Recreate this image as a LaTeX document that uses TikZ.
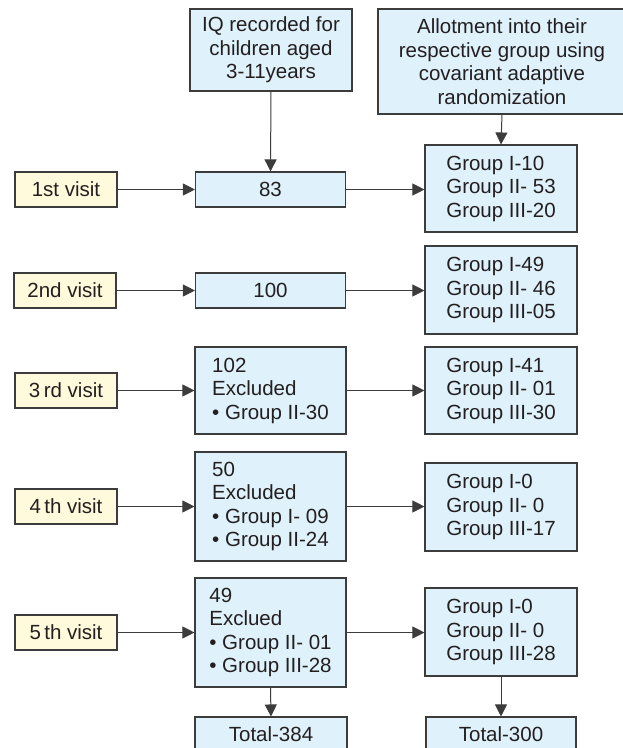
\documentclass[tikz,border=0pt]{standalone}
\usepackage{fontspec}
\setmainfont{Liberation Sans}
\usetikzlibrary{arrows.meta}
\definecolor{boxfill}{HTML}{DFF1FA}
\definecolor{visitfill}{HTML}{FFFADC}
\definecolor{edgegray}{HTML}{3C3C3C}
\definecolor{inkblack}{HTML}{231F20}
\begin{document}
\begin{tikzpicture}[x=1pt,y=-1pt,
    font=\fontsize{20.5}{23.5}\selectfont,
    flowbox/.style={draw=edgegray, line width=1.1pt, fill=boxfill, text=inkblack, align=left, inner sep=0pt},
    visitbox/.style={draw=edgegray, line width=1.1pt, fill=visitfill, text=inkblack, inner sep=0pt, minimum width=102pt, minimum height=35pt},
    flowarrow/.style={draw=edgegray, line width=1pt, -{Triangle[length=12pt,width=12pt]}}]
                \useasboundingbox (0,0) rectangle (622,748);
                
                % Marking the two boxes at the top
                \node [flowbox, align=center, minimum width=162pt, minimum height=82pt] (iq) at (271,50) {IQ recorded for\\children aged\\3-11years};%
                \node [flowbox, align=center, minimum width=248pt, minimum height=105pt] (allot) at (502,61.5) {Allotment into their\\respective group using\\covariant adaptive\\randomization};%
                
                % Marking visit boxes
                \node [visitbox] (v1) at (66,189.5) {1st visit};%
                \node [visitbox] (v2) at (65,290.5) {2nd visit};%
                \node [visitbox] (v3) at (66,390.5) {3\,rd visit};%
                \node [visitbox] (v4) at (66,506.5) {4\,th visit};%
                \node [visitbox] (v5) at (66,632.5) {5\,th visit};%
                
                % Marking count boxes
                \node [flowbox, align=center, minimum width=150pt, minimum height=35pt] (n1) at (270.5,189.5) {83};%
                \node [flowbox, align=center, minimum width=150pt, minimum height=35pt] (n2) at (270.5,290.5) {100};%
                \node [flowbox, minimum width=151pt, minimum height=87pt] (n3) at (270.5,390.5) {102\\Excluded\\• Group II-30};%
                \node [flowbox, minimum width=151pt, minimum height=109pt] (n4) at (270.5,506.5) {50\\Excluded\\• Group I- 09\\• Group II-24};%
                \node [flowbox, minimum width=151pt, minimum height=109pt] (n5) at (270.5,632.5) {49\\Exclued\\• Group II- 01\\• Group III-28};%
                
                % Marking group boxes
                \node [flowbox, minimum width=152pt, minimum height=87pt] (g1) at (501,188.5) {Group I-10\\Group II- 53\\Group III-20};%
                \node [flowbox, minimum width=152pt, minimum height=88pt] (g2) at (501,290) {Group I-49\\Group II- 46\\Group III-05};%
                \node [flowbox, minimum width=152pt, minimum height=87pt] (g3) at (501,390.5) {Group I-41\\Group II- 01\\Group III-30};%
                \node [flowbox, minimum width=152pt, minimum height=88pt] (g4) at (501,507) {Group I-0\\Group II- 0\\Group III-17};%
                \node [flowbox, minimum width=152pt, minimum height=88pt] (g5) at (501,632) {Group I-0\\Group II- 0\\Group III-28};%
                
                % Marking totals
                \node [flowbox, align=center, minimum width=152pt, minimum height=35pt] (t1) at (271,734.5) {Total-384};%
                \node [flowbox, align=center, minimum width=150pt, minimum height=35pt] (t2) at (501,734.5) {Total-300};%
                
                % Drawing arrows
                \draw [flowarrow] (iq.south) -- (n1.north);%
                \draw [flowarrow] (allot.south) -- (g1.north);%
                \draw [flowarrow] (v1.east) -- (n1.west);%
                \draw [flowarrow] (v2.east) -- (n2.west);%
                \draw [flowarrow] (v3.east) -- (n3.west);%
                \draw [flowarrow] (v4.east) -- (n4.west);%
                \draw [flowarrow] (v5.east) -- (n5.west);%
                \draw [flowarrow] (n1.east) -- (n1.east -| g1.west);%
                \draw [flowarrow] (n2.east) -- (n2.east -| g2.west);%
                \draw [flowarrow] (n3.east) -- (n3.east -| g3.west);%
                \draw [flowarrow] (n4.east) -- (n4.east -| g4.west);%
                \draw [flowarrow] (n5.east) -- (n5.east -| g5.west);%
                \draw [flowarrow] (n5.south) -- (t1.north);%
                \draw [flowarrow] (g5.south) -- (t2.north);%
\end{tikzpicture}
\end{document}
